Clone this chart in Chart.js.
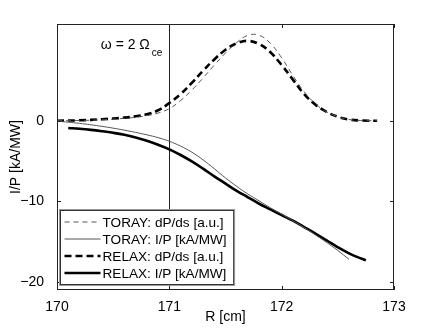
<!DOCTYPE html>
<html lang="en">

<head>
    <meta charset="UTF-8">
    <title>I/P vs R</title>
    <script src="https://cdn.jsdelivr.net/npm/chart.js"></script>
    <style>
        body { margin: 0; background: #fff; }
    </style>
</head>

<body>
    <canvas id="myChart" width="436" height="328"></canvas>
    <script>
        // values
        const r_dp = [170.0, 170.2, 170.4, 170.6, 170.7, 170.8, 170.9, 171.0, 171.1, 171.2, 171.3, 171.4, 171.5, 171.6, 171.7, 171.8, 171.9, 172.0, 172.1, 172.2, 172.3, 172.4, 172.5, 172.6, 172.7, 172.85];
        const toray_dp = [0, 0.03, 0.12, 0.3, 0.42, 0.62, 0.95, 1.5, 2.5, 3.8, 5.3, 6.9, 8.4, 9.7, 10.6, 10.6, 9.6, 7.8, 5.6, 3.6, 2.1, 1.1, 0.5, 0.15, 0.03, 0];
        const relax_dp = [0, 0.05, 0.18, 0.38, 0.55, 0.8, 1.3, 2.2, 3.3, 4.7, 6.2, 7.6, 8.8, 9.6, 9.9, 9.5, 8.5, 6.9, 5.1, 3.3, 2.0, 1.1, 0.5, 0.15, 0.03, 0];

        const r_toray = [170.0, 170.1, 170.2, 170.3, 170.4, 170.5, 170.6, 170.7, 170.8, 170.9, 171.0, 171.1, 171.2, 171.3, 171.4, 171.5, 171.6, 171.7, 171.8, 171.9, 172.0, 172.1, 172.2, 172.3, 172.4, 172.5, 172.6];
        const toray_ip = [-0.05, -0.18, -0.33, -0.5, -0.7, -0.92, -1.17, -1.45, -1.75, -2.1, -2.55, -3.15, -3.9, -4.85, -5.95, -7.1, -8.15, -9.1, -9.95, -10.8, -11.6, -12.4, -13.25, -14.15, -15.1, -16.1, -17.2];

        const r_relax = [170.1, 170.2, 170.3, 170.4, 170.5, 170.6, 170.7, 170.8, 170.9, 171.0, 171.1, 171.2, 171.3, 171.4, 171.5, 171.6, 171.7, 171.8, 171.9, 172.0, 172.1, 172.2, 172.3, 172.4, 172.5, 172.6, 172.7, 172.75];
        const relax_ip = [-0.9, -1.0, -1.13, -1.3, -1.5, -1.75, -2.08, -2.48, -2.98, -3.55, -4.25, -5.05, -5.95, -6.9, -7.8, -8.7, -9.5, -10.3, -11.0, -11.7, -12.4, -13.2, -14.0, -14.85, -15.7, -16.45, -17.05, -17.3];

        const x_ticks = [170, 171, 172, 173];
        const y_ticks = [-20, -10, 0];
        const res_r = 171; // omega = 2 Omega_ce

        const FONT = 'Liberation Sans, Arial, Helvetica, sans-serif';

        function pts(xs, ys) {
            return xs.map((x, i) => ({ x: x, y: ys[i] }));
        }

        // box, inward ticks, resonance line and label
        const frame = {
            id: 'frame',
            beforeDatasetsDraw(chart) {
                const { ctx, chartArea: ca, scales: { x, y } } = chart;
                const xr = x.getPixelForValue(res_r);
                ctx.save();
                ctx.strokeStyle = '#222';
                ctx.lineWidth = 1;
                ctx.beginPath();
                ctx.moveTo(Math.round(xr) + 0.5, ca.top);
                ctx.lineTo(Math.round(xr) + 0.5, ca.bottom);
                ctx.stroke();

                ctx.fillStyle = '#000';
                ctx.textBaseline = 'alphabetic';
                ctx.font = '14px ' + FONT;
                const tx = x.getPixelForValue(170.39);
                const ty = y.getPixelForValue(8.9);
                const main = 'ω = 2 Ω';
                ctx.fillText(main, tx, ty);
                const w = ctx.measureText(main).width;
                ctx.font = '10px ' + FONT;
                ctx.fillText('ce', tx + w + 2, ty + 7);
                ctx.restore();
            },
            afterDatasetsDraw(chart) {
                const { ctx, chartArea: ca, scales: { x, y } } = chart;
                const tl = 4;
                ctx.save();
                ctx.strokeStyle = '#222';
                ctx.lineWidth = 1;
                ctx.strokeRect(ca.left + 0.5, ca.top + 0.5, ca.right - ca.left - 1, ca.bottom - ca.top - 1);
                ctx.beginPath();
                x_ticks.forEach(v => {
                    const px = Math.round(x.getPixelForValue(v)) + 0.5;
                    ctx.moveTo(px, ca.bottom); ctx.lineTo(px, ca.bottom - tl);
                    ctx.moveTo(px, ca.top); ctx.lineTo(px, ca.top + tl);
                });
                y_ticks.forEach(v => {
                    const py = Math.round(y.getPixelForValue(v)) + 0.5;
                    ctx.moveTo(ca.left, py); ctx.lineTo(ca.left + tl, py);
                    ctx.moveTo(ca.right, py); ctx.lineTo(ca.right - tl, py);
                });
                ctx.stroke();
                ctx.restore();
            },
            // legend box in the lower left corner
            afterDraw(chart) {
                const { ctx, chartArea: ca } = chart;
                const ds = chart.data.datasets;
                ctx.save();
                ctx.font = '13.6px ' + FONT;
                let tw = 0;
                ds.forEach(d => { tw = Math.max(tw, ctx.measureText(d.label).width); });
                const rowH = 17;
                const left = ca.left + 3.5;
                const top = ca.bottom - 5.5 - rowH * ds.length - 6;
                const width = 6 + 37 + 2 + tw + 4;
                const height = rowH * ds.length + 6;
                ctx.fillStyle = '#fff';
                ctx.fillRect(left, top, width, height);
                ctx.strokeStyle = '#9a9a9a';
                ctx.lineWidth = 1;
                ctx.strokeRect(left - 1, top - 1, width + 2, height + 2);
                ctx.strokeStyle = '#333';
                ctx.strokeRect(left, top, width, height);
                ctx.textBaseline = 'middle';
                ds.forEach((d, i) => {
                    const cy = top + 3 + rowH * i + rowH / 2;
                    ctx.strokeStyle = d.borderColor;
                    ctx.lineWidth = d.borderWidth;
                    ctx.setLineDash(d.borderDash || []);
                    ctx.beginPath();
                    ctx.moveTo(left + 4, cy);
                    ctx.lineTo(left + 40, cy);
                    ctx.stroke();
                    ctx.setLineDash([]);
                    ctx.fillStyle = '#000';
                    ctx.fillText(d.label, left + 42, cy + 1);
                });
                ctx.restore();
            }
        };

        const ctx = document.getElementById('myChart');
        const configs = {
            type: 'line',
            data: {
                datasets: [
                    {
                        label: 'TORAY: dP/ds [a.u.]',
                        data: pts(r_dp, toray_dp),
                        borderColor: '#555',
                        borderWidth: 1,
                        borderDash: [5, 4]
                    },
                    {
                        label: 'TORAY: I/P [kA/MW]',
                        data: pts(r_toray, toray_ip),
                        borderColor: '#555',
                        borderWidth: 1
                    },
                    {
                        label: 'RELAX: dP/ds [a.u.]',
                        data: pts(r_dp, relax_dp),
                        borderColor: '#000',
                        borderWidth: 2.6,
                        borderDash: [7, 4]
                    },
                    {
                        label: 'RELAX: I/P [kA/MW]',
                        data: pts(r_relax, relax_ip),
                        borderColor: '#000',
                        borderWidth: 2.6
                    }
                ]
            },
            options: {
                responsive: false,
                animation: false,
                devicePixelRatio: 1,
                layout: { padding: { top: 24, right: 42, left: 0, bottom: 0 } },
                elements: {
                    point: { radius: 0 },
                    line: { tension: 0.4, fill: false }
                },
                plugins: {
                    legend: { display: false },
                    tooltip: { enabled: false }
                },
                scales: {
                    x: {
                        type: 'linear',
                        min: 170,
                        max: 173,
                        afterFit: s => { s.height = 38; },
                        afterBuildTicks: s => { s.ticks = x_ticks.map(v => ({ value: v })); },
                        grid: { display: false },
                        border: { display: false },
                        ticks: {
                            color: '#000',
                            padding: 1,
                            maxRotation: 0,
                            font: { family: FONT, size: 14 }
                        },
                        title: {
                            display: true,
                            text: 'R [cm]',
                            color: '#000',
                            padding: { top: 0, bottom: 2 },
                            font: { family: FONT, size: 14 }
                        }
                    },
                    y: {
                        min: -21,
                        max: 12,
                        afterFit: s => { s.width = 57; },
                        afterBuildTicks: s => { s.ticks = y_ticks.map(v => ({ value: v })); },
                        grid: { display: false },
                        border: { display: false },
                        ticks: {
                            color: '#000',
                            padding: 5,
                            font: { family: FONT, size: 14 },
                            callback: v => String(v).replace('-', '\u2212')
                        },
                        title: {
                            display: true,
                            text: 'I/P [kA/MW]',
                            color: '#000',
                            padding: { top: 8, bottom: 0 },
                            font: { family: FONT, size: 14 }
                        }
                    }
                }
            },
            plugins: [frame]
        };
        let myChart = new Chart(ctx, configs);
    </script>
</body>

</html>
